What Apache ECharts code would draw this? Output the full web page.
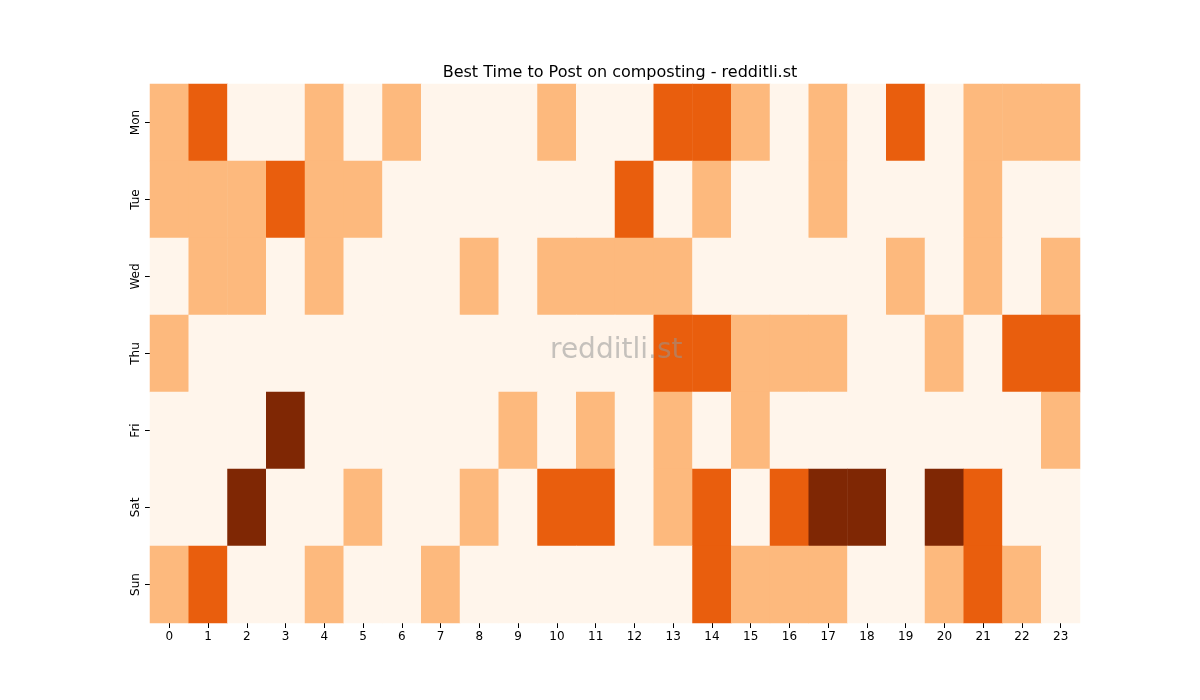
<!DOCTYPE html>
<html><head><meta charset="utf-8">
<script src="https://cdn.jsdelivr.net/npm/echarts@6/dist/echarts.min.js"></script>
<style>html,body{margin:0;padding:0;background:#fff}#c{width:1200px;height:700px}</style>
</head><body><div id="c"></div>
<script>
const hours = ["0","1","2","3","4","5","6","7","8","9","10","11","12","13","14","15","16","17","18","19","20","21","22","23"];
const days = ["Mon","Tue","Wed","Thu","Fri","Sat","Sun"];
const mon = [1,2,0,0,1,0,1,0,0,0,1,0,0,2,2,1,0,1,0,2,0,1,1,1];
const tue = [1,1,1,2,1,1,0,0,0,0,0,0,2,0,1,0,0,1,0,0,0,1,0,0];
const wed = [0,1,1,0,1,0,0,0,1,0,1,1,1,1,0,0,0,0,0,1,0,1,0,1];
const thu = [1,0,0,0,0,0,0,0,0,0,0,0,0,2,2,1,1,1,0,0,1,0,2,2];
const fri = [0,0,0,3,0,0,0,0,0,1,0,1,0,1,0,1,0,0,0,0,0,0,0,1];
const sat = [0,0,3,0,0,1,0,0,1,0,2,2,0,1,2,0,2,3,3,0,3,2,0,0];
const sun = [1,2,0,0,1,0,0,1,0,0,0,0,0,0,2,1,1,1,0,0,1,2,1,0];
const rows = [mon,tue,wed,thu,fri,sat,sun];
const data = [];
rows.forEach((r,yi)=>r.forEach((v,xi)=>data.push([xi,yi,v])));
const chart = echarts.init(document.getElementById('c'));
chart.setOption({
  animation:false,
  title:{text:'Best Time to Post on composting - redditli.st',left:615,textAlign:'center',top:60,
    textStyle:{fontFamily:'DejaVu Sans',fontSize:16,fontWeight:'normal',color:'#000'}},
  grid:{left:150,right:120,top:84,bottom:77},
  xAxis:{type:'category',data:hours,axisTick:{show:true,alignWithLabel:true,lineStyle:{color:'#000'}},
    axisLine:{show:false},splitLine:{show:false},
    axisLabel:{color:'#000',fontFamily:'DejaVu Sans',fontSize:12}},
  yAxis:{type:'category',data:days,inverse:true,axisTick:{show:true,alignWithLabel:true,lineStyle:{color:'#000'}},
    axisLine:{show:false},splitLine:{show:false},
    axisLabel:{color:'#000',fontFamily:'DejaVu Sans',fontSize:12,rotate:90}},
  visualMap:{show:false,type:'piecewise',dimension:2,
    pieces:[{value:0,color:'#fff5eb'},{value:1,color:'#fdb97d'},{value:2,color:'#e95e0d'},{value:3,color:'#7f2704'}]},
  graphic:[{type:'text',left:550,top:337,style:{text:'redditli.st',fontSize:28,fontFamily:'DejaVu Sans',fill:'rgba(150,150,150,0.55)'},z:100}],
  series:[{type:'heatmap',data:data,itemStyle:{borderWidth:0}}]
});
</script></body></html>
